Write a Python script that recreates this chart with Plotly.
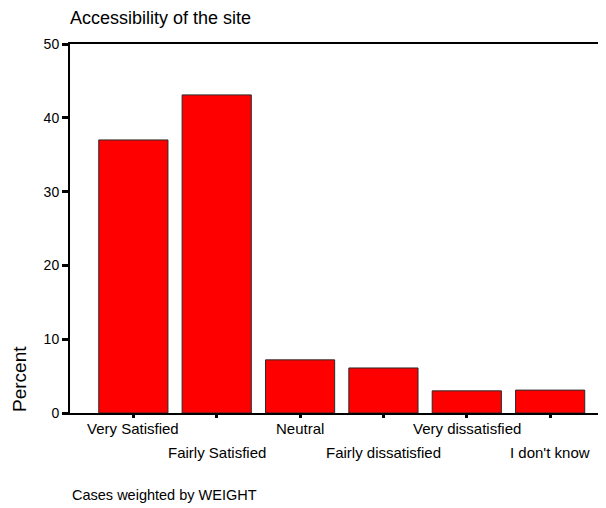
import plotly.graph_objects as go

categories = ["Very Satisfied", "Fairly Satisfied", "Neutral",
              "Fairly dissatisfied", "Very dissatisfied", "I don't know"]
percent = [37.0, 43.1, 7.2, 6.1, 3.0, 3.1]
y_ticks = [0, 10, 20, 30, 40, 50]

font = "Arial, Liberation Sans, sans-serif"

# page body has an 8px margin; figure is sized so it ends at the window edge
W, H = 598, 500
L, R, T, B = 62, 0, 36, 95
PW, PH = W - L - R, H - T - B

fig = go.Figure(go.Bar(
    x=list(range(len(categories))), y=percent,
    marker=dict(color="#FF0000", line=dict(color="#2a2a2a", width=1)),
    width=0.83,
))

annotations = []
for i, c in enumerate(categories):
    annotations.append(dict(
        x=i, y=0, xref="x", yref="paper", text=c, showarrow=False,
        xanchor="center", yanchor="middle",
        yshift=-15 if i % 2 == 0 else -39,
        font=dict(family=font, size=15, color="#000"),
    ))
annotations.append(dict(
    x=(11 - L) / PW, y=(405 - 371) / PH, xref="paper", yref="paper", xanchor="center",
    yanchor="middle", text="Percent", textangle=-90, showarrow=False,
    font=dict(family=font, size=19, color="#000"),
))
annotations.append(dict(
    x=0, y=0, xref="paper", yref="paper", xanchor="left", yanchor="middle",
    yshift=-82, text="Cases weighted by WEIGHT", showarrow=False,
    font=dict(family=font, size=14.5, color="#000"),
))
annotations.append(dict(
    x=(60 - L) / PW, y=1, xref="paper", yref="paper", xanchor="left", yanchor="middle",
    yshift=26, text="Accessibility of the site", showarrow=False,
    font=dict(family=font, size=18, color="#000"),
))

fig.update_layout(
    width=W, height=H,
    margin=dict(l=L, r=R, t=T, b=B),
    paper_bgcolor="white", plot_bgcolor="white",
    showlegend=False,
    xaxis=dict(range=[-0.76, 5.67], tickmode="array",
               tickvals=list(range(len(categories))), ticktext=[""] * len(categories),
               ticks="outside", ticklen=3, tickwidth=3, tickcolor="#000",
               showline=True, linecolor="#000", linewidth=2, mirror=True,
               showgrid=False, zeroline=False),
    yaxis=dict(range=[0, 50], tickmode="array", tickvals=y_ticks,
               ticks="outside", ticklen=6, tickwidth=3, tickcolor="#000",
               showline=True, linecolor="#000", linewidth=2,
               showgrid=False, zeroline=False,
               tickfont=dict(family=font, size=14, color="#000")),
    annotations=annotations,
)

fig.write_html("out.html")
